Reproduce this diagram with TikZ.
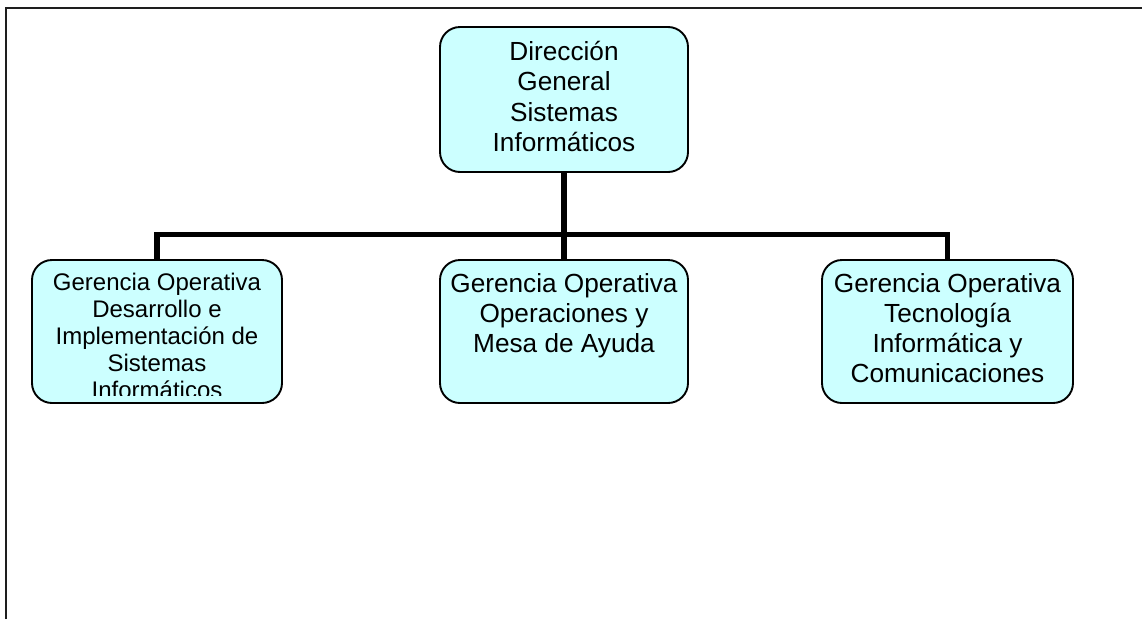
\documentclass[tikz,border=0pt]{standalone}
\usepackage{fontspec}
\setmainfont{Liberation Sans}
\definecolor{boxfill}{RGB}{204,255,255}
\definecolor{framecol}{RGB}{30,30,30}
\begin{document}
\begin{tikzpicture}[x=1pt,y=-1pt,
  orgbox/.style={draw=black, line width=1.9pt, fill=boxfill, rounded corners=20pt,
    rectangle, inner sep=0pt},
  bigtext/.style={inner sep=0pt, anchor=base, font=\fontsize{26.2}{30.2}\selectfont},
  smalltext/.style={inner sep=0pt, anchor=base, font=\fontsize{24}{27}\selectfont},
  conn/.style={line width=5.5pt, black, line join=miter}]
\useasboundingbox (0,0) rectangle (1142,619);

% page frame (top and left edges only)
\coordinate (fTL) at (6,8);
\coordinate (fTR) at (1142,8);
\coordinate (fBL) at (6,619);
\draw[framecol, line width=2.4pt] (fBL) -- (fTL) -- (fTR);

% boxes
\node[orgbox, minimum width=248pt, minimum height=145pt] (dg) at (564,99.5) {};
\node[orgbox, minimum width=250pt, minimum height=143pt] (g1) at (157,331.5) {};
\node[orgbox, minimum width=248pt, minimum height=143pt] (g2) at (564,331.5) {};
\node[orgbox, minimum width=251pt, minimum height=143pt] (g3) at (947.5,331.5) {};

% connectors
\coordinate (bus) at (564,234.5);
\draw[conn] (dg.south) -- (dg.south |- bus);
\draw[conn] (g1.north) -- (g1.north |- bus) -- (g3.north |- bus) -- (g3.north);
\draw[conn] (g2.north) -- (g2.north |- bus);

% texts
\node[bigtext] (dg-t) at ([yshift=-34.7pt]dg.north)
  {\parbox[t]{240pt}{\centering Dirección\\General\\Sistemas\\Informáticos}};
\begin{scope}
  \clip (g1.north west) rectangle ([yshift=8pt]g1.south east);
  \node[smalltext] (g1-t) at ([yshift=-31.7pt]g1.north)
    {\parbox[t]{245pt}{\centering Gerencia Operativa\\Desarrollo e\\Implementación de\\Sistemas\\Informáticos}};
\end{scope}
\node[bigtext] (g2-t) at ([yshift=-33.3pt]g2.north)
  {\parbox[t]{245pt}{\centering Gerencia Operativa\\Operaciones y\\Mesa de Ayuda}};
\node[bigtext] (g3-t) at ([yshift=-33.3pt]g3.north)
  {\parbox[t]{248pt}{\centering Gerencia Operativa\\Tecnología\\Informática y\\Comunicaciones}};
\end{tikzpicture}
\end{document}
